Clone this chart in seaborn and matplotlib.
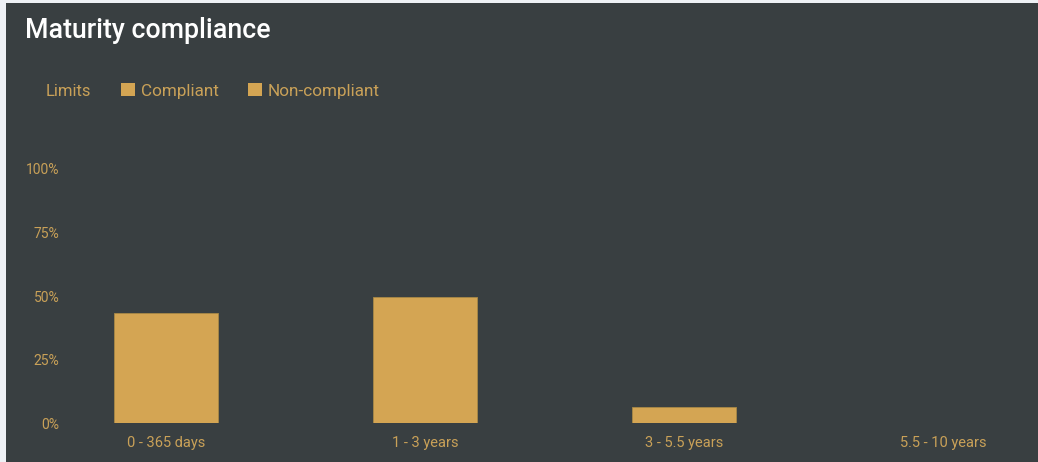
import matplotlib
matplotlib.use("Agg")
import matplotlib.pyplot as plt
from matplotlib.patches import Rectangle, Patch
import seaborn as sns
import pandas as pd

categories = ["0 - 365 days", "1 - 3 years", "3 - 5.5 years", "5.5 - 10 years"]
compliant = [43.5, 49.5, 6.3, 0.0]
non_compliant = [0.0, 0.0, 0.0, 0.0]
y_ticks = [0, 25, 50, 75, 100]
y_tick_labels = ["0%", "25%", "50%", "75%", "100%"]
series_names = ["Compliant", "Non-compliant"]

BG = "#393f41"
GOLD = "#d4a553"
TEXT_GOLD = "#c9a158"

sns.set_style("dark")
plt.rcParams["font.family"] = ["Roboto", "DejaVu Sans"]

df = pd.DataFrame({
    "category": categories * 2,
    "value": compliant + non_compliant,
    "status": [series_names[0]] * len(categories) + [series_names[1]] * len(categories),
})

W, H = 1038, 462
fig = plt.figure(figsize=(W / 100, H / 100), dpi=100)
fig.patch.set_facecolor(BG)
# light border strips at left and top
fig.patches.append(Rectangle((0, 0), 6 / W, 1, transform=fig.transFigure, facecolor="#eef1f5", edgecolor="none", zorder=0))
fig.patches.append(Rectangle((0, 1 - 3 / H), 1, 3 / H, transform=fig.transFigure, facecolor="#eef1f5", edgecolor="none", zorder=0))

left_px, right_px, bottom_px, top_px = 65, 1030, 423.3, 155
ax = fig.add_axes([left_px / W, (H - bottom_px) / H, (right_px - left_px) / W, (bottom_px - top_px) / H])
ax.set_facecolor(BG)

sns.barplot(data=df, x="category", y="value", hue="status", dodge=False,
            palette=[GOLD, GOLD], saturation=1, width=0.4, ax=ax, legend=False,
            edgecolor="#a88846", linewidth=0.6)

px_per_unit = 259.0
cx0 = 165.8
ax.set_xlim((left_px - cx0) / px_per_unit, (right_px - cx0) / px_per_unit)
px_per_pct = (423.3 - 169) / 100
ax.set_ylim(0, (bottom_px - top_px) / px_per_pct)

ax.set_yticks(y_ticks)
ax.set_yticklabels(y_tick_labels)
ax.tick_params(axis="y", colors=TEXT_GOLD, labelsize=10, length=0, pad=4)
ax.tick_params(axis="x", colors=TEXT_GOLD, labelsize=10.5, length=0, pad=9)
ax.set_xlabel("")
ax.set_ylabel("")
ax.grid(False)
for s in ax.spines.values():
    s.set_visible(False)

fig.text(25 / W, 1 - 31 / H, "Maturity compliance", color="white", fontsize=19.3,
         fontweight="medium", va="center", ha="left")
fig.text(46 / W, 1 - 91 / H, "Limits", color=TEXT_GOLD, fontsize=12, va="center", ha="left")

handles = [Patch(facecolor=GOLD, edgecolor="none") for _ in series_names]
leg = fig.legend(handles, series_names, loc="center left", bbox_to_anchor=(121 / W, 1 - 91 / H),
                 ncol=2, frameon=False, fontsize=12.3, handlelength=0.8, handleheight=0.8,
                 handletextpad=0.35, columnspacing=1.75, borderaxespad=0, borderpad=0)
for t in leg.get_texts():
    t.set_color(TEXT_GOLD)

fig.savefig("out.png", dpi=100, facecolor=BG)
